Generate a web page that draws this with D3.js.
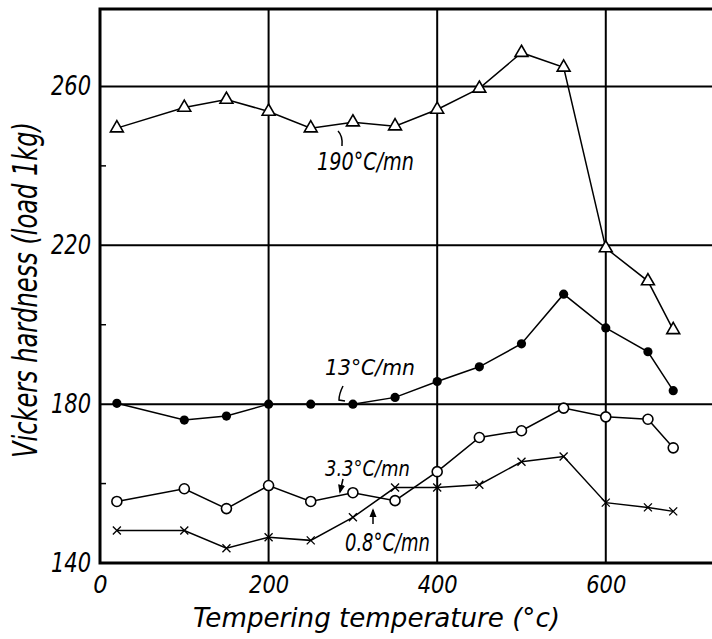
<!DOCTYPE html>
<html>
<head>
<meta charset="utf-8">
<script src="https://cdn.jsdelivr.net/npm/d3@7"></script>
<style>
  html, body { margin: 0; padding: 0; background: #fff; }
  svg { display: block; }
  text { font-family: 'DejaVu Sans Condensed', 'DejaVu Sans', sans-serif; font-stretch: condensed; font-style: italic; fill: #000; }
</style>
</head>
<body>
<svg id="chart" width="712" height="639"></svg>
<script>
// ---- data ----
const temperatures = [20, 100, 150, 200, 250, 300, 350, 400, 450, 500, 550, 600, 650, 680];
const rate190 = [249.5, 254.7, 256.7, 253.7, 249.5, 251, 250, 254.2, 259.5, 268.5, 264.8, 219.3, 211, 198.7];
const rate13  = [180.2, 176, 177, 180, 180, 180, 181.7, 185.7, 189.4, 195.2, 207.7, 199.2, 193.2, 183.4];
const rate3_3 = [155.5, 158.7, 153.7, 159.5, 155.5, 157.7, 155.7, 163, 171.6, 173.3, 179, 176.8, 176.2, 169];
const rate0_8 = [148.2, 148.2, 143.7, 146.5, 145.7, 151.5, 159, 159, 159.7, 165.5, 166.8, 155.2, 154, 153];
const xTicks = [0, 200, 400, 600];
const yTicks = [140, 180, 220, 260];
const yMinorTicks = [160, 200, 240];
const seriesLabels = ["190°C/mn", "13°C/mn", "3.3°C/mn", "0.8°C/mn"];

// ---- layout ----
const svg = d3.select("#chart");
const x = d3.scaleLinear().domain([0, 726]).range([100, 712]);
const y = d3.scaleLinear().domain([140, 279.5]).range([563, 9]);

// grid lines
const g = svg.append("g");
g.selectAll(".hgrid").data([180, 220, 260]).join("line")
  .attr("x1", x(0)).attr("x2", x(726))
  .attr("y1", d => y(d)).attr("y2", d => y(d))
  .attr("stroke", "#000").attr("stroke-width", 2);
g.selectAll(".vgrid").data([200, 400, 600]).join("line")
  .attr("x1", d => x(d)).attr("x2", d => x(d))
  .attr("y1", y(140)).attr("y2", y(279.5))
  .attr("stroke", "#000").attr("stroke-width", 2);

// minor ticks on the left axis
g.selectAll(".minor").data(yMinorTicks).join("line")
  .attr("x1", x(0)).attr("x2", x(0) + 6)
  .attr("y1", d => y(d)).attr("y2", d => y(d))
  .attr("stroke", "#000").attr("stroke-width", 1.5);

// frame
g.append("path")
  .attr("d", `M${x(726)},${y(279.5)}H${x(0)}V${y(140)}H${x(726)}`)
  .attr("fill", "none").attr("stroke", "#000").attr("stroke-width", 3);

// axes (labels only)
const xAxis = svg.append("g").attr("transform", `translate(0,${y(140)})`)
  .call(d3.axisBottom(x).tickValues(xTicks).tickSize(0).tickPadding(12).tickFormat(d3.format("d")));
xAxis.select(".domain").remove();
xAxis.selectAll("text").attr("font-size", 25).style("font-family", null)
  .attr("textLength", d => d === 0 ? null : 40).attr("lengthAdjust", "spacingAndGlyphs");

const yAxis = svg.append("g").attr("transform", `translate(${x(0)},0)`)
  .call(d3.axisLeft(y).tickValues(yTicks).tickSize(0).tickPadding(9).tickFormat(d3.format("d")));
yAxis.select(".domain").remove();
yAxis.selectAll("text").attr("font-size", 26).style("font-family", null)
  .attr("textLength", 40).attr("lengthAdjust", "spacingAndGlyphs");

// axis titles
svg.append("text")
  .attr("x", 376.5).attr("y", 627)
  .attr("text-anchor", "middle").attr("font-size", 27)
  .attr("textLength", 367).attr("lengthAdjust", "spacingAndGlyphs")
  .text("Tempering temperature (°c)");

svg.append("text")
  .attr("transform", "translate(37,290) rotate(-90)")
  .attr("text-anchor", "middle").attr("font-size", 33)
  .attr("textLength", 336).attr("lengthAdjust", "spacingAndGlyphs")
  .text("Vickers hardness (load 1kg)");

// series
const series = [
  { values: rate190, marker: "triangle" },
  { values: rate13, marker: "filled" },
  { values: rate3_3, marker: "open" },
  { values: rate0_8, marker: "cross" }
];
const line = d3.line().x(d => x(d[0])).y(d => y(d[1]));

series.forEach(s => {
  const pts = temperatures.map((t, i) => [t, s.values[i]]);
  svg.append("path").datum(pts)
    .attr("d", line).attr("fill", "none")
    .attr("stroke", "#000").attr("stroke-width", 1.5);
  const mg = svg.append("g");
  if (s.marker === "triangle") {
    mg.selectAll("path").data(pts).join("path")
      .attr("d", d3.symbol(d3.symbolTriangle, 72))
      .attr("transform", d => `translate(${x(d[0])},${y(d[1])})`)
      .attr("fill", "#fff").attr("stroke", "#000").attr("stroke-width", 1.6);
  } else if (s.marker === "filled") {
    mg.selectAll("circle").data(pts).join("circle")
      .attr("cx", d => x(d[0])).attr("cy", d => y(d[1])).attr("r", 4.6)
      .attr("fill", "#000");
  } else if (s.marker === "open") {
    mg.selectAll("circle").data(pts).join("circle")
      .attr("cx", d => x(d[0])).attr("cy", d => y(d[1])).attr("r", 5)
      .attr("fill", "#fff").attr("stroke", "#000").attr("stroke-width", 1.6);
  } else {
    mg.selectAll("path").data(pts).join("path")
      .attr("d", "M-4,-4L4,4M-4,4L4,-4")
      .attr("transform", d => `translate(${x(d[0])},${y(d[1])})`)
      .attr("fill", "none").attr("stroke", "#000").attr("stroke-width", 1.3);
  }
});

// annotations
const ann = [
  { text: seriesLabels[0], x: 317, y: 170, w: 97, fs: 25 },
  { text: seriesLabels[1], x: 325, y: 375, w: 90, fs: 22 },
  { text: seriesLabels[2], x: 325, y: 476, w: 85, fs: 22 },
  { text: seriesLabels[3], x: 345, y: 551, w: 85, fs: 24 }
];
ann.forEach(a => {
  svg.append("text").attr("x", a.x).attr("y", a.y)
    .attr("font-size", a.fs)
    .attr("textLength", a.w).attr("lengthAdjust", "spacingAndGlyphs")
    .text(a.text);
});

// leaders
const defs = svg.append("defs");
defs.append("marker").attr("id", "ah")
  .attr("viewBox", "0 0 10 10").attr("refX", 8).attr("refY", 5)
  .attr("markerWidth", 6).attr("markerHeight", 6).attr("orient", "auto")
  .append("path").attr("d", "M0,1L10,5L0,9Z").attr("fill", "#000");

svg.append("path").attr("d", "M342,146 Q343,136 338,131")
  .attr("fill", "none").attr("stroke", "#000").attr("stroke-width", 1.5);
svg.append("path").attr("d", "M343,386 Q339,394 339,400 L345,401")
  .attr("fill", "none").attr("stroke", "#000").attr("stroke-width", 1.5);
svg.append("path").attr("d", "M343,479 L340,492")
  .attr("fill", "none").attr("stroke", "#000").attr("stroke-width", 1.5)
  .attr("marker-end", "url(#ah)");
svg.append("path").attr("d", "M373,524 L373,510")
  .attr("fill", "none").attr("stroke", "#000").attr("stroke-width", 1.5)
  .attr("marker-end", "url(#ah)");
</script>
</body>
</html>
